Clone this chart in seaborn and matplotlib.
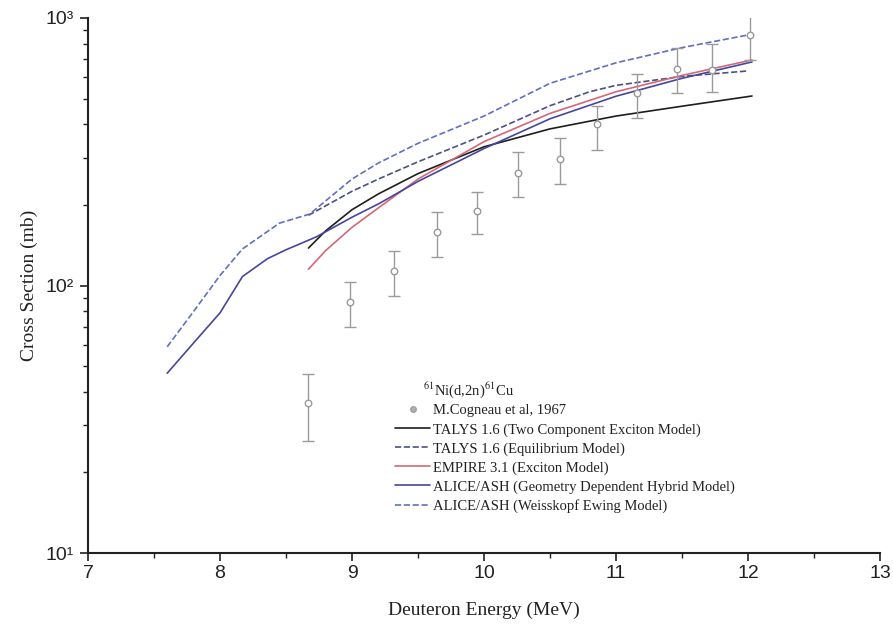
import numpy as np
import pandas as pd
import matplotlib
matplotlib.use("Agg")
import matplotlib.pyplot as plt
from matplotlib.lines import Line2D
from matplotlib.ticker import FixedLocator, FixedFormatter, NullFormatter
import seaborn as sns

# ---------------- data ----------------
exp_x = [8.667, 8.985, 9.318, 9.644, 9.947, 10.258, 10.576, 10.856, 11.159, 11.462, 11.727, 12.015]
exp_y = [36.4, 86.7, 113, 158.5, 190, 263.5, 297, 401, 524, 645, 640, 864]
exp_hi = [46.7, 103, 134.6, 188, 224, 315, 356, 469, 617, 772, 800, 1100]
exp_lo = [26.2, 70, 91.4, 128, 156, 214, 239, 321, 423, 524, 529, 697]

talys_tce_x = [8.67, 8.8, 9.0, 9.2, 9.5, 10.0, 10.5, 11.0, 11.5, 12.03]
talys_tce_y = [138, 160, 192, 220, 262, 330, 385, 430, 468, 511]

talys_eq_x = [8.67, 9.0, 9.2, 9.5, 10.0, 10.5, 10.8, 11.0, 11.5, 12.0]
talys_eq_y = [183, 225, 250, 290, 365, 470, 530, 560, 605, 634]

empire_x = [8.67, 8.8, 9.0, 9.2, 9.5, 10.0, 10.5, 11.0, 11.5, 12.03]
empire_y = [115, 135, 165, 195, 250, 345, 440, 530, 610, 697]

gdh_x = [7.6, 7.8, 8.0, 8.17, 8.36, 8.5, 8.73, 9.0, 9.21, 9.5, 10.0, 10.5, 11.0, 11.5, 12.03]
gdh_y = [47, 61, 79, 108, 126, 136, 152, 180, 203, 245, 325, 420, 510, 595, 685]

we_x = [7.6, 7.8, 8.0, 8.17, 8.45, 8.68, 9.0, 9.2, 9.5, 10.0, 10.5, 11.0, 11.5, 12.0]
we_y = [59, 80, 109, 137, 171, 185, 250, 287, 340, 430, 570, 680, 775, 864]

x_ticks = [7, 8, 9, 10, 11, 12, 13]
y_ticks = [10, 100, 1000]
y_tick_labels = ["10\u00b9", "10\u00b2", "10\u00b3"]

legend_title = "$^{61}$Ni(d,2n)$^{61}$Cu"
exp_label = "M.Cogneau et al, 1967"
series = [
    ("TALYS 1.6 (Two Component Exciton Model)", talys_tce_x, talys_tce_y, "#1e1e1e", "-"),
    ("TALYS 1.6 (Equilibrium Model)", talys_eq_x, talys_eq_y, "#4b5085", "--"),
    ("EMPIRE 3.1 (Exciton Model)", empire_x, empire_y, "#d46878", "-"),
    ("ALICE/ASH (Geometry Dependent Hybrid Model)", gdh_x, gdh_y, "#4646a0", "-"),
    ("ALICE/ASH (Weisskopf Ewing Model)", we_x, we_y, "#6070c0", "--"),
]

# ---------------- plot ----------------
sns.set_theme(style="ticks")
plt.rcParams["font.family"] = ["Liberation Serif", "DejaVu Serif"]
plt.rcParams["mathtext.fontset"] = "stix"

fig = plt.figure(figsize=(8.93, 6.33), dpi=100)
ax = fig.add_axes([88 / 893, 1 - 553 / 633, (880 - 88) / 893, (553 - 18) / 633])

handles = []
for label, xs, ys, col, ls in series:
    df = pd.DataFrame({"x": xs, "y": ys})
    sns.lineplot(data=df, x="x", y="y", ax=ax, color=col, linestyle=ls,
                 linewidth=1.2, sort=True, estimator=None)
    handles.append(Line2D([], [], color=col, linestyle=ls, linewidth=1.2, label=label))

exp_y_arr = np.array(exp_y)
yerr = np.vstack([exp_y_arr - np.array(exp_lo), np.array(exp_hi) - exp_y_arr])
ax.errorbar(exp_x, exp_y, yerr=yerr, fmt="none", ecolor="#9a9a9a",
            elinewidth=1.0, capsize=4, capthick=1.0, zorder=3)
sns.scatterplot(x=exp_x, y=exp_y, ax=ax, marker="o", s=22, facecolor="white",
                edgecolor="#9a9a9a", linewidth=1.0, zorder=4)
exp_handle = Line2D([], [], marker="o", color="#a0a0a0", linestyle="none",
                    markersize=4, markerfacecolor="#b0b0b0", label=exp_label)

ax.set_yscale("log")
ax.set_xlim(7, 13)
ax.set_ylim(10, 1000)

ax.xaxis.set_major_locator(FixedLocator(x_ticks))
ax.xaxis.set_minor_locator(FixedLocator([7.5, 8.5, 9.5, 10.5, 11.5, 12.5]))
ax.yaxis.set_major_locator(FixedLocator(y_ticks))
ax.yaxis.set_major_formatter(FixedFormatter(y_tick_labels))
ax.yaxis.set_minor_formatter(NullFormatter())
ax.set_xticklabels([str(t) for t in x_ticks])

for lab in ax.get_xticklabels() + ax.get_yticklabels():
    lab.set_fontfamily(["Liberation Sans", "DejaVu Sans"])
    lab.set_fontsize(14)
    lab.set_color("#222222")

ax.tick_params(axis="both", which="major", direction="out", length=6, width=1.2, colors="#222222")
ax.tick_params(axis="both", which="minor", direction="out", length=3.5, width=1.0, colors="#222222")
ax.tick_params(axis="y", which="major", pad=4)
ax.tick_params(axis="x", which="major", pad=3)

sns.despine(ax=ax)
for sp in ["left", "bottom"]:
    ax.spines[sp].set_linewidth(1.5)
    ax.spines[sp].set_color("#222222")

ax.set_xlabel("Deuteron Energy (MeV)", fontsize=14, labelpad=14, color="#222222")
ax.set_ylabel("Cross Section (mb)", fontsize=14, labelpad=6, color="#222222")

ax.text(0.423, 0.304, legend_title, transform=ax.transAxes, fontsize=10.5,
        ha="left", va="center", color="#222222")
leg = ax.legend(handles=[exp_handle] + handles, loc="upper left",
                bbox_to_anchor=(0.388, 0.278), frameon=False, fontsize=10.5,
                handlelength=2.4, handletextpad=0.2, labelspacing=0.38,
                borderaxespad=0.0, borderpad=0.0)
for t in leg.get_texts():
    t.set_color("#222222")

fig.savefig("out.png", dpi=100)
